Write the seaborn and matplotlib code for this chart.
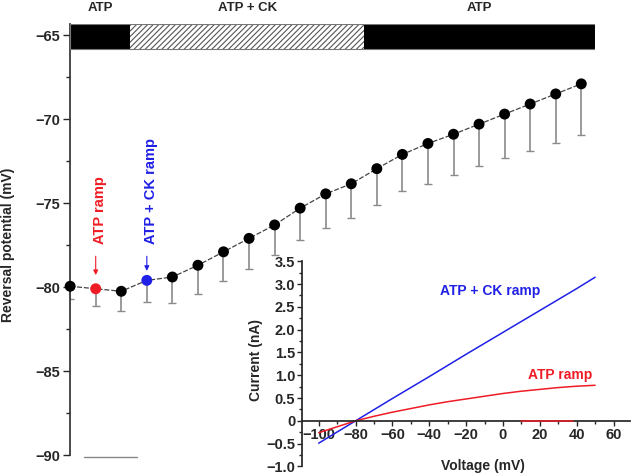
import numpy as np
import matplotlib
matplotlib.use("Agg")
import matplotlib.pyplot as plt
import matplotlib.ticker as mticker
import seaborn as sns

# ---- main panel: reversal potential per ramp ----
ramp_idx = list(range(21))
rev_pot = [-79.95, -80.1, -80.25, -79.6, -79.4, -78.7, -77.9, -77.1, -76.3, -75.3,
           -74.45, -73.85, -72.95, -72.1, -71.45, -70.9, -70.3, -69.7, -69.1, -68.5, -67.9]
rev_sem = [0.75, 1.0, 1.2, 1.3, 1.55, 1.7, 1.75, 1.8, 1.8, 1.9,
           2.05, 2.05, 2.15, 2.2, 2.4, 2.45, 2.5, 2.6, 2.8, 2.9, 3.05]
atp_ramp_idx = 1
ck_ramp_idx = 3

# solution bar on top
seg_bounds = [0, 2.35, 11.5, 20.55]
seg_labels = ["ATP", "ATP + CK", "ATP"]
seg_hatched = [False, True, False]

# ---- inset: I-V ramps ----
v_ck = [-100, -80, -60, -40, -20, 0, 20, 40, 50]
i_ck = [-0.49, 0.0, 0.49, 0.97, 1.46, 1.94, 2.42, 2.9, 3.15]
v_atp = [-100, -90, -80, -70, -60, -50, -40, -30, -20, -10, 0, 10, 20, 30, 40, 50]
i_atp = [-0.26, -0.13, 0.0, 0.1, 0.19, 0.27, 0.35, 0.42, 0.48, 0.54, 0.6, 0.65, 0.69, 0.73, 0.76, 0.78]

RED = "#ee1c25"
BLUE = "#2020e6"

sns.set_theme(style="ticks")
plt.rcParams["font.family"] = ["Liberation Sans", "DejaVu Sans"]
plt.rcParams["font.weight"] = "bold"
plt.rcParams["hatch.linewidth"] = 0.8
plt.rcParams["hatch.color"] = "#555555"

fig = plt.figure(figsize=(6.32, 4.75), dpi=100)
ax = fig.add_axes([0.111, 0.042, 0.831, 0.907])

# error bars (downward only)
ax.errorbar(ramp_idx, rev_pot, yerr=[rev_sem, [0] * len(rev_sem)], fmt="none",
            ecolor="#8a8a8a", elinewidth=1.2, capsize=3, capthick=1.0, zorder=2)
sns.lineplot(x=ramp_idx, y=rev_pot, ax=ax, color="#444444", lw=0.9,
             linestyle=(0, (4, 1.5)), zorder=3)
pt_colors = ["black"] * len(ramp_idx)
pt_colors[atp_ramp_idx] = RED
pt_colors[ck_ramp_idx] = BLUE
sns.scatterplot(x=ramp_idx, y=rev_pot, ax=ax, c=pt_colors, s=62, edgecolor="none",
                zorder=4, clip_on=False)

# solution bar
bar_lo, bar_hi = -65.85, -64.35
for i, lab in enumerate(seg_labels):
    left, right = seg_bounds[i], seg_bounds[i + 1]
    if seg_hatched[i]:
        ax.barh((bar_lo + bar_hi) / 2, right - left, left=left, height=bar_hi - bar_lo,
                color="white", edgecolor="#555555", hatch="//////", lw=0, zorder=5)
    else:
        ax.barh((bar_lo + bar_hi) / 2, right - left, left=left, height=bar_hi - bar_lo,
                color="black", lw=0, zorder=5)
    ax.text((left + right) / 2, 1.037, lab, transform=ax.get_xaxis_transform(),
            ha="center", va="center", fontsize=9.5, fontweight="bold")
ax.barh((bar_lo + bar_hi) / 2, seg_bounds[-1], left=0, height=bar_hi - bar_lo,
        color="none", edgecolor="#777777", lw=0.8, zorder=6)

# ramp annotations
ax.text(atp_ramp_idx + 0.15, -75.4, "ATP ramp", rotation=90, color=RED,
        ha="center", va="center", fontsize=10.5, fontweight="bold")
ax.annotate("", xy=(atp_ramp_idx, -79.45), xytext=(atp_ramp_idx, -78.0),
            arrowprops=dict(arrowstyle="-|>", color=RED, lw=0.8, mutation_scale=7))
ax.text(ck_ramp_idx + 0.15, -74.3, "ATP + CK ramp", rotation=90, color=BLUE,
        ha="center", va="center", fontsize=10.5, fontweight="bold")
ax.annotate("", xy=(ck_ramp_idx, -79.2), xytext=(ck_ramp_idx, -78.0),
            arrowprops=dict(arrowstyle="-|>", color=BLUE, lw=0.8, mutation_scale=7))

# little gray bar at the bottom
ax.plot([0.55, 2.6], [-90.1, -90.1], color="#888888", lw=1.0, clip_on=False)

ax.set_xlim(0, 20.55)
ax.set_ylim(-90, bar_hi)
ax.set_yticks([-65, -70, -75, -80, -85, -90])
ax.yaxis.set_minor_locator(mticker.MultipleLocator(2.5))
ax.tick_params(axis="y", which="major", length=5, width=1, labelsize=10.5, pad=2)
ax.tick_params(axis="y", which="minor", length=3, width=1)
ax.set_xticks([])
sns.despine(ax=ax, bottom=True)
ax.spines["left"].set_color("#333333")
ax.set_xlabel("")
ax.set_ylabel("Reversal potential (mV)", fontsize=10, fontweight="bold")
ax.yaxis.set_label_coords(-0.105, 0.487)
for t in ax.get_yticklabels():
    t.set_fontweight("bold")

# ---- inset ----
axi = fig.add_axes([0.478, 0.018, 0.519, 0.432])
axi.set_facecolor("none")
sns.lineplot(x=v_ck, y=i_ck, ax=axi, color=BLUE, lw=1.1)
sns.lineplot(x=v_atp, y=i_atp, ax=axi, color=RED, lw=1.1)
axi.plot([10, 38], [0, 0], color=RED, lw=1.1, zorder=5)
axi.text(-7, 2.85, "ATP + CK ramp", color=BLUE, ha="center", va="center",
         fontsize=10, fontweight="bold")
axi.text(31, 1.0, "ATP ramp", color=RED, ha="center", va="center",
         fontsize=10, fontweight="bold")

axi.set_xlim(-109, 69)
axi.set_ylim(-1.0, 3.5)
axi.spines["bottom"].set_position(("data", 0))
sns.despine(ax=axi)
axi.set_xticks(range(-100, 61, 20))
axi.xaxis.set_minor_locator(mticker.MultipleLocator(10))
axi.set_yticks(np.arange(-1.0, 3.51, 0.5))
axi.yaxis.set_minor_locator(mticker.MultipleLocator(0.25))
axi.yaxis.set_major_formatter(mticker.FuncFormatter(
    lambda v, p: "0" if abs(v) < 1e-9 else f"{v:.1f}".replace("-", "\u2212")))
axi.tick_params(which="major", length=3.5, width=1, labelsize=10.5, pad=1.5)
axi.tick_params(which="minor", length=2, width=1)
for t in axi.get_xticklabels() + axi.get_yticklabels():
    t.set_fontweight("bold")
axi.set_xlabel("Voltage (mV)", fontsize=10, fontweight="bold")
axi.set_ylabel("Current (nA)", fontsize=10, fontweight="bold")
axi.xaxis.set_label_coords(0.55, 0.035)
axi.yaxis.set_label_coords(-0.119, 0.52)

fig.savefig("out.png", dpi=100)
plt.close(fig)
